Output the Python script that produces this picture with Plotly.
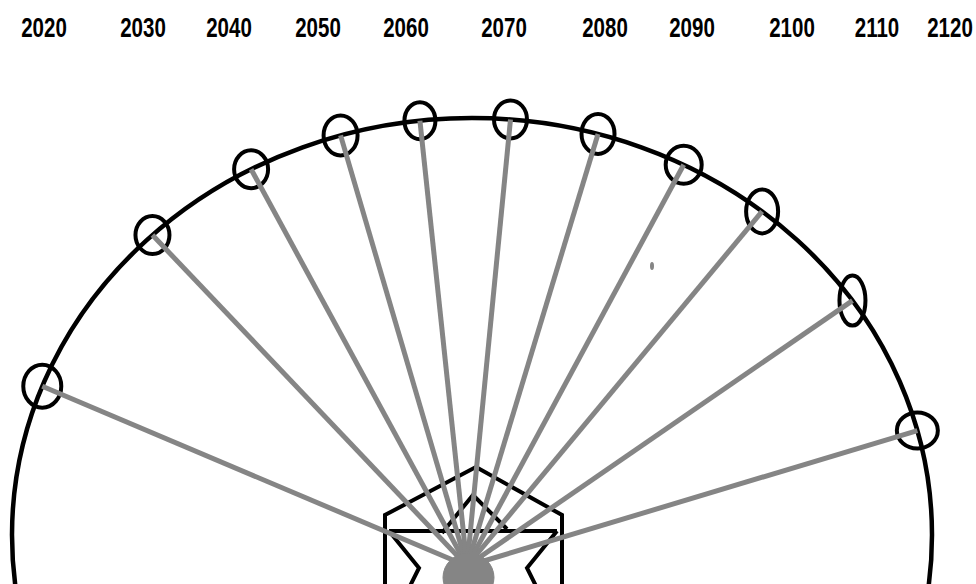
import numpy as np
import plotly.graph_objects as go

# ---- data ----
years = ["2020", "2030", "2040", "2050", "2060", "2070", "2080", "2090", "2100", "2110", "2120"]
label_x = [44, 143, 229, 318, 406, 504, 605, 692, 792, 877, 950]
gondola_angle_deg = [159.1, 134.0, 118.7, 106.6, 96.5, 85.2, 74.1, 62.6, 50.9, 34.2, 14.5]

# ---- geometry / style ----
W, H = 976, 584
wheel_cx, wheel_cy, wheel_a, wheel_b = 472, 535, 460, 417
hub_x, hub_y = 467, 566
gondola_w = [38, 34, 34, 34, 31, 33, 33, 36, 32, 26, 41]
gondola_h = [43, 38, 38, 40, 37, 38, 40, 38, 44, 50, 36]
BLACK = "#000000"
GRAY = "#858585"
LABEL_FONT = "Liberation Sans, Arial, Roboto, sans-serif"
LABEL_Y = 30

theta = np.radians(gondola_angle_deg)
gx = wheel_cx + wheel_a * np.cos(theta)
gy = wheel_cy - wheel_b * np.sin(theta)

fig = go.Figure()

# spokes
for x, y in zip(gx, gy):
    fig.add_trace(go.Scatter(x=[hub_x, x], y=[hub_y, y], mode="lines",
                             line=dict(color=GRAY, width=5), hoverinfo="skip",
                             showlegend=False))

# year labels
fig.add_trace(go.Scatter(x=label_x, y=[LABEL_Y] * len(years), mode="text", text=years,
                         textfont=dict(family=LABEL_FONT, size=27, color=BLACK, weight="bold"),
                         textposition="middle center", hoverinfo="skip", showlegend=False,
                         cliponaxis=False))

shapes = []
# wheel rim
shapes.append(dict(type="circle", xref="x", yref="y", layer="below",
                   x0=wheel_cx - wheel_a, x1=wheel_cx + wheel_a,
                   y0=wheel_cy - wheel_b, y1=wheel_cy + wheel_b,
                   line=dict(color=BLACK, width=4.5)))
# gondolas
for x, y, w, h in zip(gx, gy, gondola_w, gondola_h):
    shapes.append(dict(type="circle", xref="x", yref="y", layer="below",
                       x0=x - w / 2, x1=x + w / 2, y0=y - h / 2, y1=y + h / 2,
                       line=dict(color=BLACK, width=4)))
# house / envelope base
house_paths = [
    "M 385 590 L 385 515 L 476 467 L 562 515 L 562 590",
    "M 389 531 L 557 531",
    "M 442 533 L 473 495 L 507 529",
    "M 389 531 L 419 568 L 408 590",
    "M 557 531 L 527 568 L 538 590",
]
for p in house_paths:
    shapes.append(dict(type="path", path=p, xref="x", yref="y", layer="below",
                       line=dict(color=BLACK, width=4)))
# hub
shapes.append(dict(type="circle", xref="x", yref="y", layer="above",
                   x0=hub_x - 24, x1=hub_x + 27, y0=hub_y - 13, y1=hub_y + 36,
                   fillcolor=GRAY, line=dict(color=GRAY, width=1)))
# small speck
shapes.append(dict(type="circle", xref="x", yref="y", layer="below",
                   x0=650, x1=654, y0=262, y1=270,
                   fillcolor=GRAY, line=dict(color=GRAY, width=0)))

fig.update_layout(
    width=W, height=H,
    margin=dict(l=0, r=0, t=0, b=0),
    paper_bgcolor="white", plot_bgcolor="white",
    shapes=shapes,
    xaxis=dict(range=[0, W], visible=False, fixedrange=True),
    yaxis=dict(range=[H, 0], visible=False, fixedrange=True),
    showlegend=False,
)

post = (
    "document.body.style.margin='0';document.body.style.overflow='hidden';"
    "document.querySelectorAll('.textpoint text').forEach(function(t){"
    "var x=parseFloat(t.getAttribute('x'));"
    "if(!isNaN(x)){t.setAttribute('transform','translate('+x+',0) scale(0.76,1) translate('+(-x)+',0)');}"
    "});"
)
fig.write_html("out.html", config={"displayModeBar": False}, post_script=post)
